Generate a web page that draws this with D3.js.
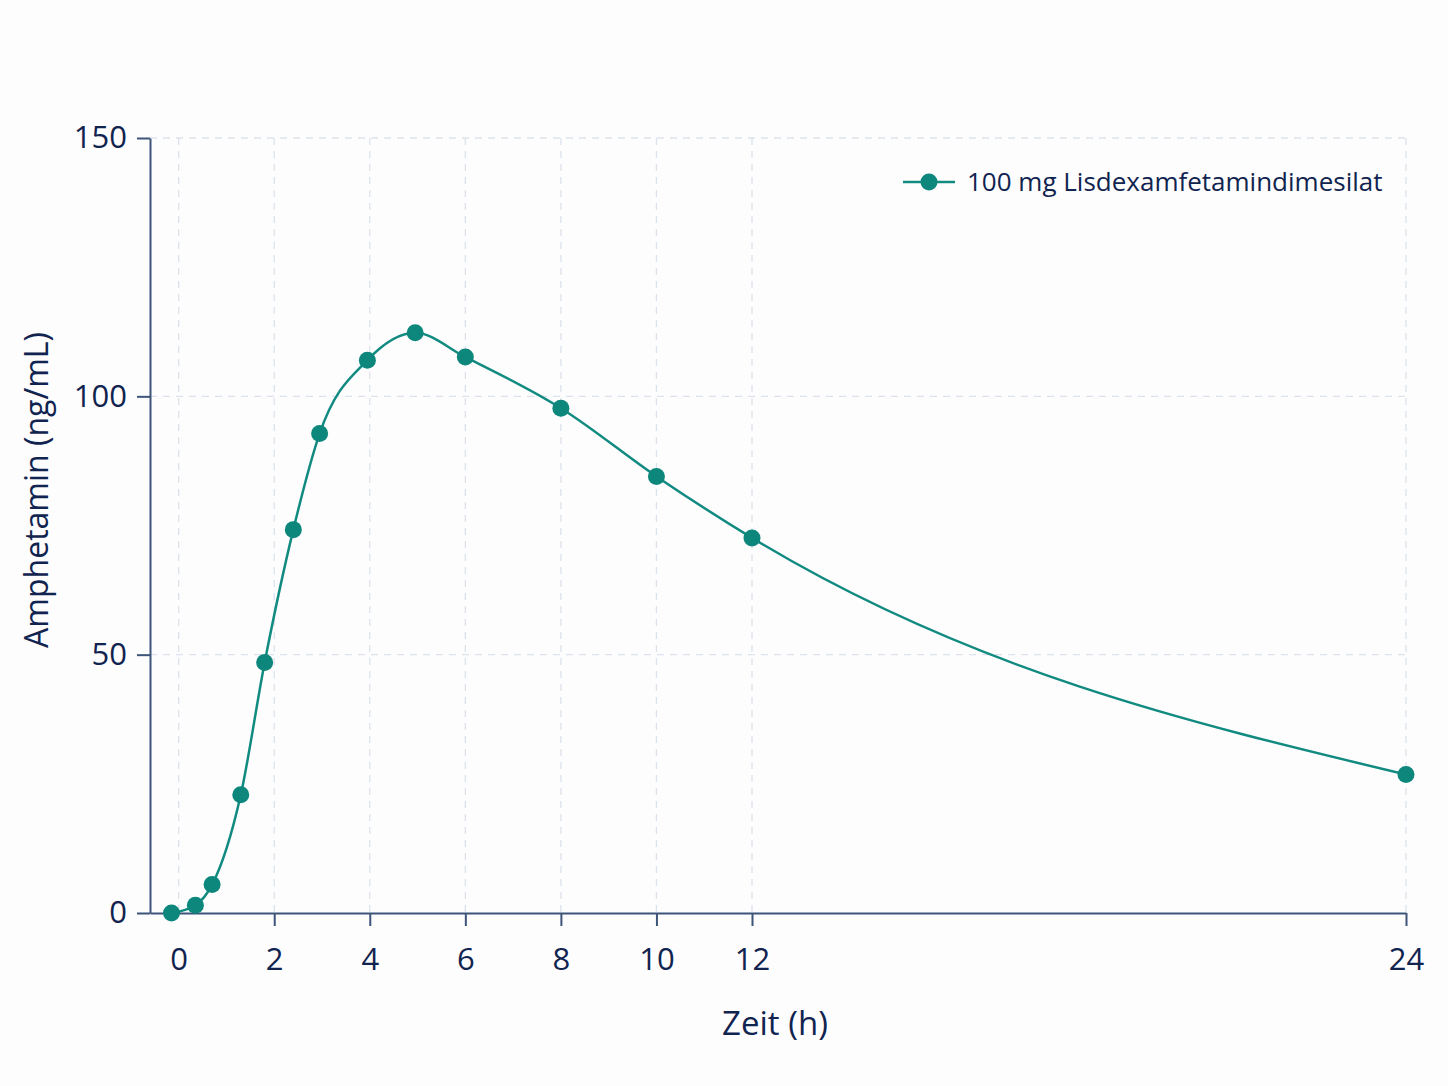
<!DOCTYPE html>
<html>
<head>
<meta charset="utf-8">
<script src="https://cdn.jsdelivr.net/npm/d3@7"></script>
<style>
  body { margin: 0; background: #fdfdfe; }
  svg { display: block; font-family: "Open Sans", "Noto Sans", sans-serif; }
</style>
</head>
<body>
<div id="chart"></div>
<script>
// Zeitpunkte (h) und Amphetamin-Konzentration (ng/mL)
const times = [-0.15, 0.35, 0.7, 1.3, 1.8, 2.4, 2.95, 3.95, 4.95, 6, 8, 10, 12, 24];
const conc = [0, 1.5, 5.5, 22.9, 48.5, 74.2, 92.8, 107.0, 112.3, 107.6, 97.7, 84.5, 72.6, 26.8];
const xTicks = [0, 2, 4, 6, 8, 10, 12, 24];
const yTicks = [0, 50, 100, 150];
const seriesName = "100 mg Lisdexamfetamindimesilat";

const W = 1448, H = 1086;
const margin = { top: 138, right: 42, bottom: 173, left: 150 };
const width = W - margin.left - margin.right;
const height = H - margin.top - margin.bottom;

const ink = "#10244f";
const axisCol = "#3c5578";
const teal = "#118a80";

const svg = d3.select("#chart").append("svg")
    .attr("width", W)
    .attr("height", H);

const g = svg.append("g")
    .attr("transform", "translate(" + margin.left + "," + margin.top + ")");

// x axis is stretched a bit after 12 h (piecewise)
const x = d3.scaleLinear().domain([-0.6, 12, 24]).range([0, 602, width]);
const y = d3.scaleLinear().domain([0, 150]).range([height, 0]);

// grid
g.append("g").selectAll("line")
    .data(xTicks)
    .enter().append("line")
    .attr("x1", d => x(d)).attr("x2", d => x(d))
    .attr("y1", 0).attr("y2", height)
    .attr("stroke", "#dce3ec")
    .attr("stroke-width", 1.3)
    .attr("stroke-dasharray", "7,6");

g.append("g").selectAll("line")
    .data(yTicks.filter(d => d > 0))
    .enter().append("line")
    .attr("x1", 0).attr("x2", width)
    .attr("y1", d => y(d)).attr("y2", d => y(d))
    .attr("stroke", "#dce3ec")
    .attr("stroke-width", 1.3)
    .attr("stroke-dasharray", "7,6");

// axes
const xAxis = g.append("g")
    .attr("transform", "translate(0," + height + ")")
    .call(d3.axisBottom(x).tickValues(xTicks).tickSize(13).tickSizeOuter(0).tickPadding(22));
xAxis.selectAll(".tick").filter(d => d === 0).select("line").remove();

const yAxis = g.append("g")
    .call(d3.axisLeft(y).tickValues(yTicks).tickSize(13).tickSizeOuter(0).tickPadding(10));

[xAxis, yAxis].forEach(a => {
    a.select(".domain").attr("stroke", axisCol).attr("stroke-width", 2);
    a.selectAll(".tick line").attr("stroke", axisCol).attr("stroke-width", 2);
    a.selectAll(".tick text")
        .attr("fill", ink)
        .style("font-size", "31px")
        .style("font-family", "'Open Sans', sans-serif");
});

// axis titles
svg.append("text")
    .attr("x", 775)
    .attr("y", 1035)
    .attr("text-anchor", "middle")
    .attr("fill", ink)
    .style("font-size", "33px")
    .text("Zeit (h)");

svg.append("text")
    .attr("transform", "translate(48," + 490 + ") rotate(-90)")
    .attr("text-anchor", "middle")
    .attr("fill", ink)
    .style("font-size", "32px")
    .text("Amphetamin (ng/mL)");

// line + points
const line = d3.line()
    .x((d, i) => x(times[i]))
    .y(d => y(d))
    .curve(d3.curveMonotoneX);

g.append("path")
    .datum(conc)
    .attr("d", line)
    .attr("fill", "none")
    .attr("stroke", teal)
    .attr("stroke-width", 2.5);

g.selectAll(".dot")
    .data(conc)
    .enter().append("circle")
    .attr("class", "dot")
    .attr("cx", (d, i) => x(times[i]))
    .attr("cy", d => y(d))
    .attr("r", 8.5)
    .attr("fill", "#0d877c");

// legend
const legend = g.append("g")
    .attr("transform", "translate(" + (width - 503) + ",44)");

legend.append("line")
    .attr("x1", 0).attr("x2", 52)
    .attr("stroke", teal)
    .attr("stroke-width", 2.5);

legend.append("circle")
    .attr("cx", 26)
    .attr("r", 8.5)
    .attr("fill", "#0d877c");

legend.append("text")
    .attr("x", 64)
    .attr("dy", "0.35em")
    .attr("fill", ink)
    .style("font-size", "26px")
    .text(seriesName);
</script>
</body>
</html>
